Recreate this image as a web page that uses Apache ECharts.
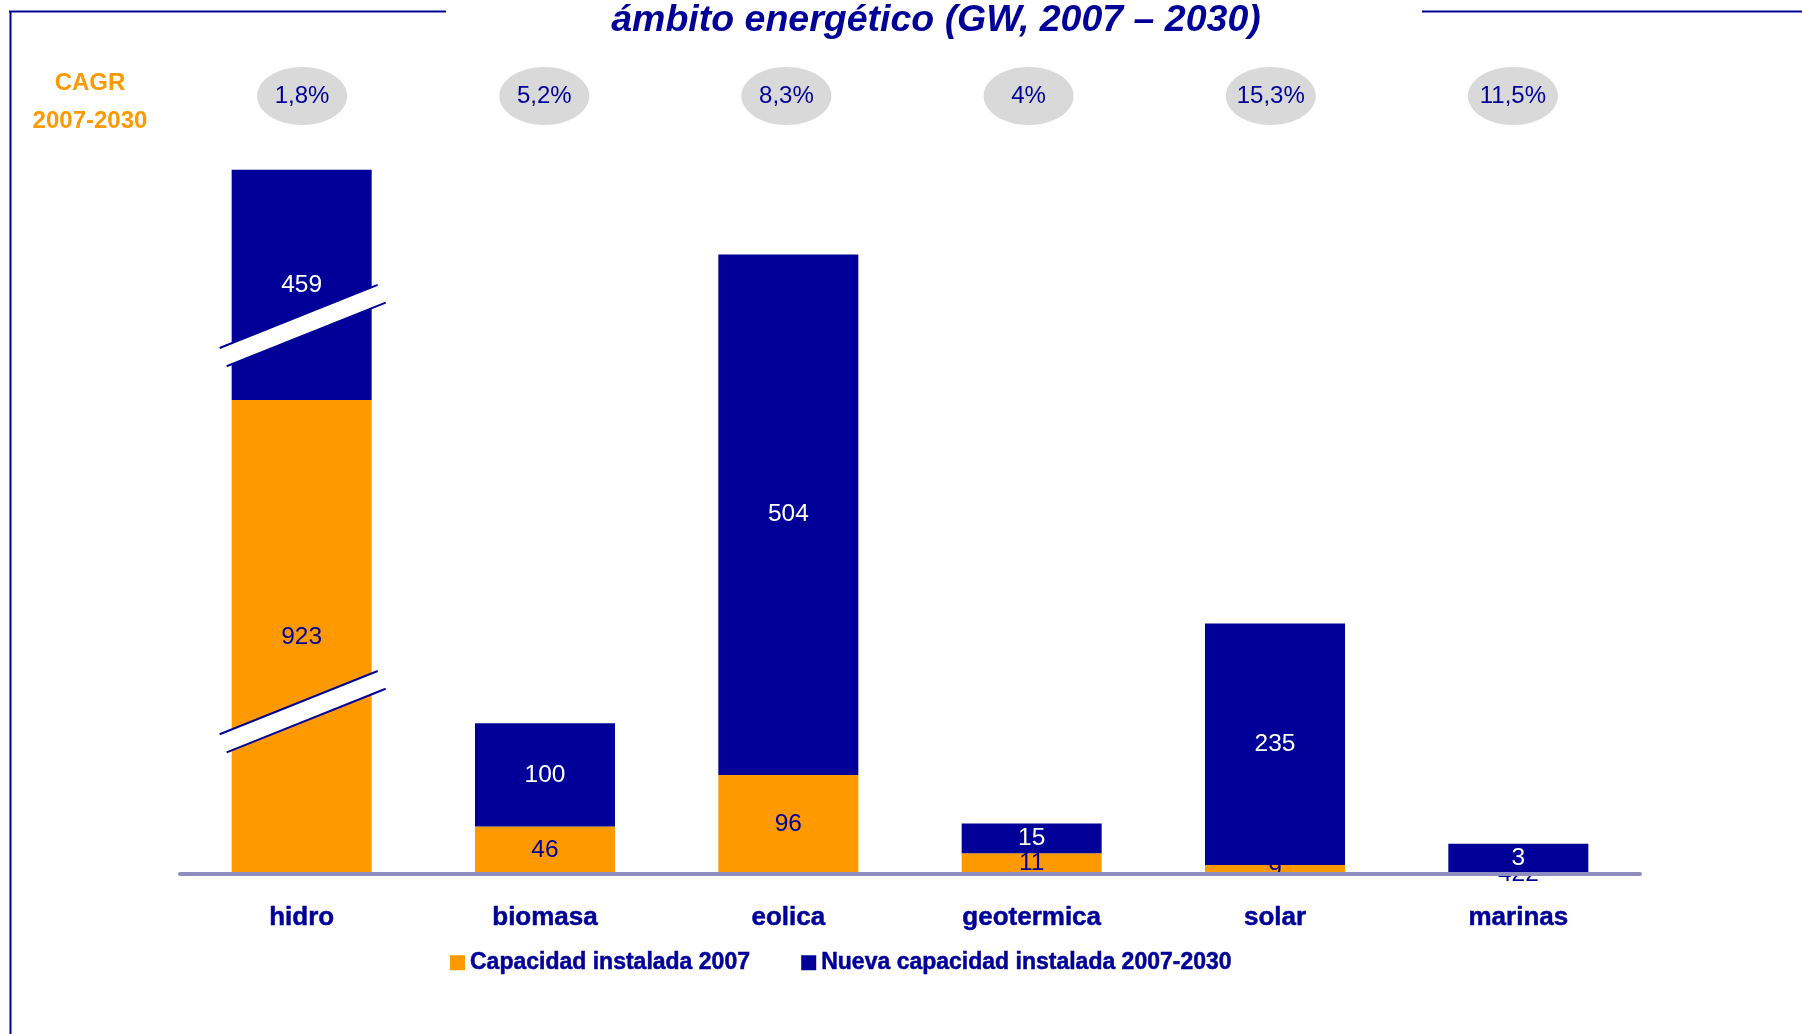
<!DOCTYPE html>
<html>
<head>
<meta charset="utf-8">
<script src="https://cdn.jsdelivr.net/npm/echarts@6/dist/echarts.min.js"></script>
<style>
html,body{margin:0;padding:0;background:#fff;}
#c{width:1802px;height:1034px;}
</style>
</head>
<body>
<div id="c"></div>
<script>
// ---- data ----
var categories = ['hidro', 'biomasa', 'eolica', 'geotermica', 'solar', 'marinas'];
// printed values (GW)
var cap2007Labels = ['923', '46', '96', '11', '9', '422'];
var nuevaLabels = ['459', '100', '504', '15', '235', '3'];
// drawn bar heights as they appear in the picture (hidro is shown with axis breaks,
// small bars are drawn taller than scale)
var cap2007Drawn = [459, 46, 96, 20, 8.7, 0.4];
var nuevaDrawn = [223, 100, 504, 29, 234, 29];
var cagr = ['1,8%', '5,2%', '8,3%', '4%', '15,3%', '11,5%'];
// positions (value units) of the two break symbols on the hidro bar
var breakMarks = [157, 531];

var NAVY = '#000099', ORANGE = '#ff9900';
var FONT = "'Liberation Sans', Arial, sans-serif";

var chart = echarts.init(document.getElementById('c'), null, {renderer: 'canvas'});
chart.setOption({
  animation: false,
  backgroundColor: '#ffffff',
  grid: [
    {left: 180, right: 162, top: 48, bottom: 160},
    {left: 181, right: 168, top: 48, bottom: 160, show: false}
  ],
  legend: {
    left: 445, top: 946,
    itemWidth: 15, itemHeight: 15, itemGap: 51,
    icon: 'rect',
    textStyle: {fontFamily: FONT, fontSize: 23, fontWeight: 'bold', color: NAVY,
                textBorderColor: NAVY, textBorderWidth: 0.5},
    data: ['Capacidad instalada 2007', 'Nueva capacidad instalada 2007-2030']
  },
  xAxis: [{
    type: 'category',
    data: categories,
    z: 10,
    offset: 2,
    axisTick: {show: false},
    axisLine: {lineStyle: {color: '#8e8ec2', width: 4}},
    axisLabel: {fontFamily: FONT, fontSize: 26, fontWeight: 'bold', color: NAVY, margin: 29,
                textBorderColor: NAVY, textBorderWidth: 0.5}
  }, {
    type: 'category', gridIndex: 1, data: categories, show: false
  }],
  yAxis: [
    {type: 'value', min: 0, max: 800, show: false, splitLine: {show: false}},
    {type: 'value', gridIndex: 1, min: 0, max: 800, show: false, splitLine: {show: false}}
  ],
  series: [
    {
      name: 'Capacidad instalada 2007', type: 'bar', stack: 'a', z: 2,
      barWidth: 140, data: cap2007Drawn,
      itemStyle: {color: ORANGE},
      label: {show: true, position: 'inside', color: NAVY, fontFamily: FONT, fontSize: 24.5,
              formatter: function (p) { return cap2007Labels[p.dataIndex]; }}
    },
    {
      name: 'Nueva capacidad instalada 2007-2030', type: 'bar', stack: 'a', z: 3,
      barWidth: 140, data: nuevaDrawn,
      itemStyle: {color: NAVY},
      label: {show: true, position: 'inside', color: '#ffffff', fontFamily: FONT, fontSize: 24.5,
              formatter: function (p) { return nuevaLabels[p.dataIndex]; }}
    }
  ]
});

var g = [];
// frame lines
g.push({type: 'line', z: 100, shape: {x1: 9, y1: 11.5, x2: 446, y2: 11.5}, style: {stroke: NAVY, lineWidth: 2}});
g.push({type: 'line', z: 100, shape: {x1: 1422, y1: 11.5, x2: 1802, y2: 11.5}, style: {stroke: NAVY, lineWidth: 2}});
g.push({type: 'line', z: 100, shape: {x1: 10.5, y1: 11, x2: 10.5, y2: 1034}, style: {stroke: NAVY, lineWidth: 2}});
// title
g.push({type: 'text', z: 100, x: 936, y: 21, style: {
  text: 'ámbito energético (GW, 2007 – 2030)', fill: NAVY,
  font: 'italic bold 37.5px ' + FONT, textAlign: 'center', textVerticalAlign: 'middle'}});
// CAGR label
g.push({type: 'text', z: 100, x: 90, y: 83, style: {text: 'CAGR', fill: ORANGE,
  font: 'bold 24px ' + FONT, textAlign: 'center', textVerticalAlign: 'middle'}});
g.push({type: 'text', z: 100, x: 90, y: 121, style: {text: '2007-2030', fill: ORANGE,
  font: 'bold 24px ' + FONT, textAlign: 'center', textVerticalAlign: 'middle'}});
// CAGR bubbles
categories.forEach(function (c, i) {
  var x = chart.convertToPixel({xAxisIndex: 1}, c);
  g.push({type: 'ellipse', z: 100, shape: {cx: x, cy: 96, rx: 45, ry: 29}, style: {fill: '#d9d9d9'}});
  g.push({type: 'text', z: 101, x: x, y: 96, style: {text: cagr[i], fill: NAVY,
    font: '24px ' + FONT, textAlign: 'center', textVerticalAlign: 'middle'}});
});
// axis-break symbols on the hidro bar
var hx = chart.convertToPixel({xAxisIndex: 0}, categories[0]);
breakMarks.forEach(function (v) {
  var cy = chart.convertToPixel({yAxisIndex: 0}, v);
  var s = -0.40, h = 10.5;
  function yu(dx) { return cy - h + s * dx; }
  function yl(dx) { return cy + h + s * dx; }
  g.push({type: 'polygon', z: 100, shape: {points: [
    [hx - 82, yu(-82)], [hx + 76, yu(76)], [hx + 84, yl(84)], [hx - 75, yl(-75)]
  ]}, style: {fill: '#ffffff'}});
  g.push({type: 'line', z: 101, shape: {x1: hx - 82, y1: yu(-82), x2: hx + 76, y2: yu(76)}, style: {stroke: NAVY, lineWidth: 2}});
  g.push({type: 'line', z: 101, shape: {x1: hx - 75, y1: yl(-75), x2: hx + 84, y2: yl(84)}, style: {stroke: NAVY, lineWidth: 2}});
});
chart.setOption({graphic: g});
</script>
</body>
</html>
